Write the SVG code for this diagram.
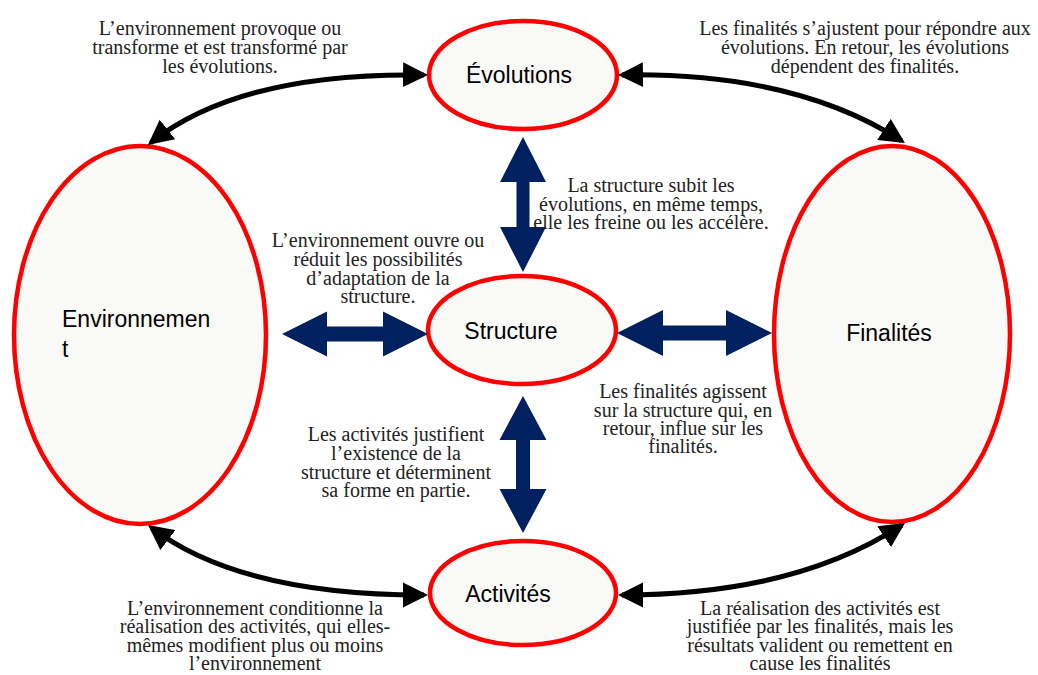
<svg xmlns="http://www.w3.org/2000/svg" width="1038" height="675" viewBox="0 0 1038 675">
<style>
.node{fill:#f9f9f7;stroke:#ff0000;stroke-width:4.5}
.lbl{font-family:"Liberation Sans",Arial,sans-serif;font-size:23px;fill:#000}
.note{font-family:"Liberation Serif","Times New Roman",serif;font-size:20px;fill:#222;text-anchor:middle}
.curve{fill:none;stroke:#000;stroke-width:5;marker-start:url(#ah);marker-end:url(#ah)}
.block{fill:#002060}
</style>
<defs>
<marker id="ah" markerUnits="userSpaceOnUse" markerWidth="26" markerHeight="26" viewBox="0 0 26 26" refX="21" refY="13" orient="auto-start-reverse">
<path d="M0,0.5 L25,13 L0,25.5 Z" fill="#000"/>
</marker>
</defs>
<rect width="1038" height="675" fill="#fff"/>
<g id="node-evolutions">
<ellipse class="node" cx="523" cy="75" rx="94" ry="54"/>
<text class="lbl" x="519" y="83" text-anchor="middle">Évolutions</text>
</g>
<g id="node-environnement">
<ellipse class="node" cx="140" cy="335" rx="126" ry="189"/>
<text class="lbl" x="62" y="327">Environnemen</text>
<text class="lbl" x="62" y="357">t</text>
</g>
<g id="node-finalites">
<ellipse class="node" cx="892" cy="334" rx="118" ry="188"/>
<text class="lbl" x="889" y="341" text-anchor="middle">Finalités</text>
</g>
<g id="node-structure">
<ellipse class="node" cx="522" cy="330" rx="94" ry="54"/>
<text class="lbl" x="511" y="339" text-anchor="middle">Structure</text>
</g>
<g id="node-activites">
<ellipse class="node" cx="523" cy="593" rx="93" ry="52"/>
<text class="lbl" x="508" y="602" text-anchor="middle">Activités</text>
</g>
<g id="connectors">
<path class="curve" d="M151,142.5 Q240,72 424,75"/>
<path class="curve" d="M622,75 Q795,72 901.6,140.8"/>
<path class="curve" d="M151.2,527.4 Q240,595 424,595"/>
<path class="curve" d="M622,595 Q795,595 901.7,525.2"/>
<polygon class="block" points="523,137 546,182 529.5,182 529.5,227 546,227 523,272 500,227 516.5,227 516.5,182 500,182"/>
<polygon class="block" points="523,396 546.5,440 530,440 530,489 546.5,489 523,533 499.5,489 516,489 516,440 499.5,440"/>
<polygon class="block" points="282,334 327,311.5 327,326.5 383,326.5 383,311.5 428,334 383,356.5 383,341.5 327,341.5 327,356.5"/>
<polygon class="block" points="617,333 663,310 663,325.5 726,325.5 726,310 772,333 726,356 726,340.5 663,340.5 663,356"/>
</g>
<g id="notes">
<text class="note"><tspan x="220" y="35">L’environnement provoque ou</tspan><tspan x="220" y="54">transforme et est transformé par</tspan><tspan x="220" y="73">les évolutions.</tspan></text>
<text class="note"><tspan x="865" y="35">Les finalités s’ajustent pour répondre aux</tspan><tspan x="865" y="54">évolutions. En retour, les évolutions</tspan><tspan x="865" y="73">dépendent des finalités.</tspan></text>
<text class="note"><tspan x="651" y="192">La structure subit les</tspan><tspan x="651" y="210.5">évolutions, en même temps,</tspan><tspan x="651" y="229">elle les freine ou les accélère.</tspan></text>
<text class="note"><tspan x="378" y="247">L’environnement ouvre ou</tspan><tspan x="378" y="266">réduit les possibilités</tspan><tspan x="378" y="285">d’adaptation de la</tspan><tspan x="378" y="303">structure.</tspan></text>
<text class="note"><tspan x="683" y="398">Les finalités agissent</tspan><tspan x="683" y="416.5">sur la structure qui, en</tspan><tspan x="683" y="435">retour, influe sur les</tspan><tspan x="683" y="453">finalités.</tspan></text>
<text class="note"><tspan x="396" y="441">Les activités justifient</tspan><tspan x="396" y="460">l’existence de la</tspan><tspan x="396" y="479">structure et déterminent</tspan><tspan x="396" y="497">sa forme en partie.</tspan></text>
<text class="note"><tspan x="255" y="615">L’environnement conditionne la</tspan><tspan x="255" y="633">réalisation des activités, qui elles-</tspan><tspan x="255" y="652">mêmes modifient plus ou moins</tspan><tspan x="255" y="670">l’environnement</tspan></text>
<text class="note"><tspan x="820" y="615">La réalisation des activités est</tspan><tspan x="820" y="633">justifiée par les finalités, mais les</tspan><tspan x="820" y="652">résultats valident ou remettent en</tspan><tspan x="820" y="670">cause les finalités</tspan></text>
</g>
</svg>
